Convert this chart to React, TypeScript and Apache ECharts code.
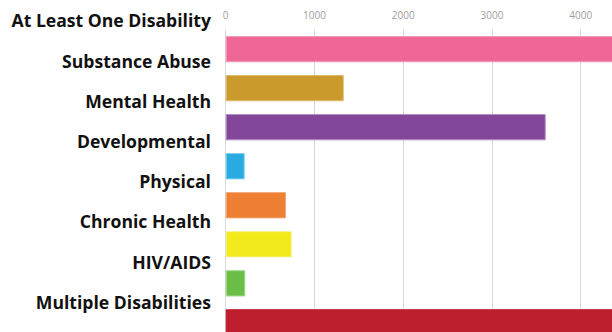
import React, { useEffect, useRef } from "react";
import * as echarts from "echarts";

const categories = [
  "At Least One Disability",
  "Substance Abuse",
  "Mental Health",
  "Developmental",
  "Physical",
  "Chronic Health",
  "HIV/AIDS",
  "Multiple Disabilities",
];
const values = [4700, 1330, 3606, 214, 679, 744, 221, 4700];
const barColors = ["#EF6796", "#CA9A2C", "#844699", "#29ABE2", "#EF7F32", "#F2EA1A", "#6BBF47", "#BE1E2D"];
const borderColors = ["#F39BB9", "#DDBB6E", "#B48DC2", "#7FCDEE", "#F4AA78", "#F7F190", "#A5D88E", "#BE1E2D"];

export default function App() {
  const ref = useRef<HTMLDivElement>(null);
  useEffect(() => {
    if (!ref.current) return;
    const chart = echarts.init(ref.current, null, { renderer: "svg" });
    chart.setOption({
      animation: false,
      backgroundColor: "#ffffff",
      grid: [
        { left: 225.7, top: 29.6, width: 443.75, height: 312.3, outerBoundsMode: "none", containLabel: false },
        { left: 225.7, top: 0.4, width: 100, height: 321.5, outerBoundsMode: "none", containLabel: false },
      ],
      xAxis: [
        {
          gridIndex: 0,
          type: "value",
          position: "top",
          min: 0,
          max: 5000,
          interval: 1000,
          axisLine: { show: false },
          axisTick: { show: false },
          splitLine: { show: true, lineStyle: { color: "#d9d9d9", width: 1 } },
          axisLabel: {
            color: "#a0a0a0",
            fontSize: 10,
            fontFamily: "Open Sans",
            margin: 10,
            showMaxLabel: false,
            formatter: (v: number) => String(v),
          },
        },
        { gridIndex: 1, type: "value", show: false },
      ],
      yAxis: [
        {
          gridIndex: 0,
          type: "category",
          data: categories,
          inverse: true,
          axisLine: { show: false },
          axisTick: { show: false },
          axisLabel: { show: false },
          splitLine: { show: false },
        },
        {
          gridIndex: 1,
          type: "category",
          data: categories,
          inverse: true,
          axisLine: { show: false },
          axisTick: { show: false },
          splitLine: { show: false },
          axisLabel: {
            color: "#111111",
            fontSize: 17.6,
            fontWeight: "bold",
            fontFamily: "Open Sans",
            margin: 14.7,
          },
        },
      ],
      series: [
        {
          type: "bar",
          xAxisIndex: 0,
          yAxisIndex: 0,
          barCategoryGap: "32.6%",
          data: values.map((v, i) => ({
            value: v,
            itemStyle: { color: barColors[i], borderColor: borderColors[i], borderWidth: 1 },
          })),
        },
      ],
    });
    return () => chart.dispose();
  }, []);
  return (
    <div
      ref={ref}
      style={{ position: "fixed", left: 0, top: 0, width: 612, height: 332, background: "#fff" }}
    />
  );
}
